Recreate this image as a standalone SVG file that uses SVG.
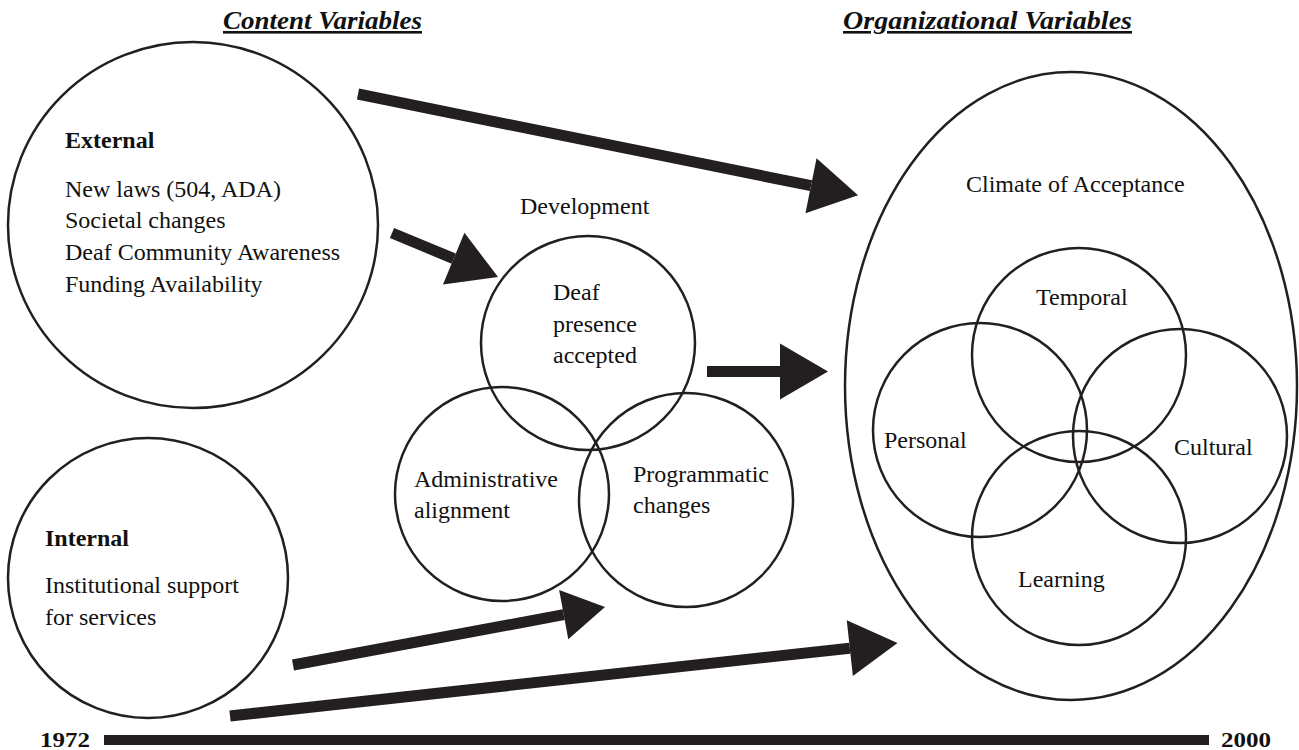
<svg xmlns="http://www.w3.org/2000/svg" width="1299" height="750" viewBox="0 0 1299 750">
  <style>
    .ring { fill: none; stroke: #231f20; stroke-width: 2.5; }
    .txt { font-family: "Liberation Serif", "Times New Roman", serif; font-size: 24px; fill: #111; }
    .bold { font-weight: bold; }
    .head { font-family: "Liberation Serif", "Times New Roman", serif; font-size: 26px; font-weight: bold; font-style: italic; fill: #111; text-decoration: underline; }
    .year { font-family: "Liberation Serif", "Times New Roman", serif; font-size: 22px; font-weight: bold; fill: #111; }
    .shaft { fill: none; stroke: #231f20; stroke-width: 11; stroke-linecap: butt; }
  </style>
  <defs>
    <marker id="arrow" markerUnits="userSpaceOnUse" markerWidth="48" markerHeight="56" refX="0" refY="28" orient="auto" overflow="visible">
      <path d="M0,0 L48,28 L0,56 Z" fill="#231f20"/>
    </marker>
    <marker id="arrow-sm" markerUnits="userSpaceOnUse" markerWidth="42" markerHeight="50" refX="0" refY="25" orient="auto" overflow="visible">
      <path d="M0,0 L42,25 L0,50 Z" fill="#231f20"/>
    </marker>
  </defs>

  <rect width="1299" height="750" fill="#ffffff"/>

  <!-- column headings -->
  <g id="heading-content">
    <text class="head" x="223" y="29" textLength="199" lengthAdjust="spacingAndGlyphs">Content Variables</text>
  </g>
  <g id="heading-organizational">
    <text class="head" x="843" y="29" textLength="289" lengthAdjust="spacingAndGlyphs">Organizational Variables</text>
  </g>

  <!-- content variables -->
  <g id="external">
    <ellipse class="ring" cx="193" cy="225" rx="185" ry="183"/>
    <text class="txt bold" x="65" y="148">External</text>
    <text class="txt" x="65" y="197">New laws (504, ADA)</text>
    <text class="txt" x="65" y="228">Societal changes</text>
    <text class="txt" x="65" y="260">Deaf Community Awareness</text>
    <text class="txt" x="65" y="292">Funding Availability</text>
  </g>

  <g id="internal">
    <circle class="ring" cx="148" cy="578" r="140"/>
    <text class="txt bold" x="45" y="546">Internal</text>
    <text class="txt" x="45" y="593">Institutional support</text>
    <text class="txt" x="45" y="625">for services</text>
  </g>

  <!-- development cluster -->
  <g id="development">
    <text class="txt" x="520" y="214">Development</text>
  </g>
  <g id="deaf-presence">
    <circle class="ring" cx="588" cy="343" r="107"/>
    <text class="txt" x="553" y="300">Deaf</text>
    <text class="txt" x="553" y="332">presence</text>
    <text class="txt" x="553" y="363">accepted</text>
  </g>
  <g id="administrative">
    <circle class="ring" cx="502" cy="494" r="107"/>
    <text class="txt" x="414" y="487">Administrative</text>
    <text class="txt" x="414" y="518">alignment</text>
  </g>
  <g id="programmatic">
    <circle class="ring" cx="686" cy="500" r="107"/>
    <text class="txt" x="633" y="482">Programmatic</text>
    <text class="txt" x="633" y="513">changes</text>
  </g>

  <!-- organizational variables -->
  <g id="climate">
    <ellipse class="ring" cx="1071" cy="386" rx="226" ry="314"/>
    <text class="txt" x="966" y="192">Climate of Acceptance</text>
  </g>
  <g id="temporal">
    <circle class="ring" cx="1079" cy="355" r="107"/>
    <text class="txt" x="1036" y="305">Temporal</text>
  </g>
  <g id="personal">
    <circle class="ring" cx="980" cy="430" r="107"/>
    <text class="txt" x="884" y="448">Personal</text>
  </g>
  <g id="cultural">
    <circle class="ring" cx="1180" cy="436" r="107"/>
    <text class="txt" x="1174" y="455">Cultural</text>
  </g>
  <g id="learning">
    <circle class="ring" cx="1079" cy="538" r="107"/>
    <text class="txt" x="1018" y="587">Learning</text>
  </g>

  <!-- connectors -->
  <g id="connectors">
    <line class="shaft" x1="358" y1="94" x2="811" y2="185.7" marker-end="url(#arrow)"/>
    <line class="shaft" x1="392" y1="233" x2="453.7" y2="258.6" marker-end="url(#arrow)"/>
    <line class="shaft" x1="707" y1="371.5" x2="780" y2="371.5" marker-end="url(#arrow)"/>
    <line class="shaft" x1="293" y1="665" x2="563.7" y2="614.7" marker-end="url(#arrow-sm)"/>
    <line class="shaft" x1="230" y1="716" x2="849.8" y2="648.2" marker-end="url(#arrow)"/>
  </g>

  <!-- timeline -->
  <g id="timeline">
    <rect x="104" y="735" width="1105" height="10" fill="#231f20"/>
    <text class="year" x="40" y="747" textLength="50" lengthAdjust="spacingAndGlyphs">1972</text>
    <text class="year" x="1221" y="747" textLength="50" lengthAdjust="spacingAndGlyphs">2000</text>
  </g>
</svg>
